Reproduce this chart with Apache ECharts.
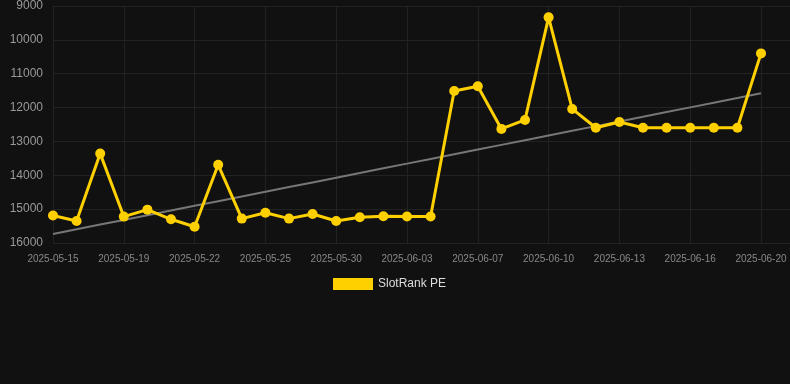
<!DOCTYPE html>
<html>
<head>
<meta charset="utf-8">
<script src="https://cdn.jsdelivr.net/npm/echarts@6/dist/echarts.min.js"></script>
<style>
    html, body { margin: 0; padding: 0; background: #111111; }
    #chart_Rank { width: 790px; height: 384px; }
</style>
</head>
<body>
<div id="chart_Rank"></div>
<script>
var dates = [
    '2025-05-15', '2025-05-16', '2025-05-17', '2025-05-19', '2025-05-20', '2025-05-21',
    '2025-05-22', '2025-05-23', '2025-05-24', '2025-05-25', '2025-05-26', '2025-05-28',
    '2025-05-30', '2025-05-31', '2025-06-01', '2025-06-03', '2025-06-04', '2025-06-06',
    '2025-06-07', '2025-06-08', '2025-06-09', '2025-06-10', '2025-06-11', '2025-06-12',
    '2025-06-13', '2025-06-14', '2025-06-15', '2025-06-16', '2025-06-17', '2025-06-18',
    '2025-06-20'
];
var rankPE = [
    15190, 15350, 13360, 15220, 15015, 15300, 15520, 13690, 15280, 15105, 15280, 15145,
    15350, 15240, 15210, 15215, 15215, 11510, 11370, 12630, 12365, 9335, 12040, 12595,
    12425, 12595, 12595, 12595, 12595, 12595, 10400
];
var yTicks = [9000, 16000, 1000]; // min, max, step

var chart_Rank = null;

// 线性趋势线
var calcTrend = function (ys) {
    var n = ys.length, sx = 0, sy = 0, sxy = 0, sxx = 0;
    for (var i = 0; i < n; i++) {
        sx += i; sy += ys[i]; sxy += i * ys[i]; sxx += i * i;
    }
    var k = (n * sxy - sx * sy) / (n * sxx - sx * sx);
    var b = (sy - k * sx) / n;
    var out = [];
    for (var j = 0; j < n; j++) {
        out.push(Math.round(k * j + b));
    }
    return out;
};

chart_Rank = echarts.init(document.getElementById('chart_Rank'));

var option = {
    backgroundColor: '#111111',
    animation: false,
    legend: {
        data: [{ name: 'SlotRank PE', icon: 'rect' }],
        left: 328,
        top: 273,
        itemWidth: 40,
        itemHeight: 12,
        itemGap: 10,
        textStyle: { color: '#dddddd', fontSize: 12, fontFamily: 'Liberation Sans' }
    },
    grid: [
        { left: 53, right: 29, top: 6, bottom: 141 },
        { left: 53, right: 0, top: 6, bottom: 141 }
    ],
    xAxis: [{
        type: 'category',
        gridIndex: 0,
        boundaryGap: false,
        data: dates,
        axisLine: { show: false },
        axisTick: { show: false },
        axisLabel: {
            interval: 2,
            color: '#888888',
            fontSize: 10,
            fontFamily: 'Liberation Sans',
            margin: 11
        },
        splitLine: {
            show: true,
            interval: 2,
            lineStyle: { color: '#222222' }
        }
    }, {
        type: 'value',
        gridIndex: 1,
        show: false
    }],
    yAxis: [{
        type: 'value',
        gridIndex: 0,
        inverse: true,
        min: yTicks[0],
        max: yTicks[1],
        interval: yTicks[2],
        axisLine: { show: false },
        axisTick: { show: false },
        axisLabel: {
            color: '#999999',
            fontSize: 12,
            fontFamily: 'Liberation Sans',
            margin: 10,
            formatter: function (v) { return String(v); }
        },
        splitLine: { show: false }
    }, {
        type: 'value',
        gridIndex: 1,
        inverse: true,
        min: yTicks[0],
        max: yTicks[1],
        interval: yTicks[2],
        axisLine: { show: false },
        axisTick: { show: false },
        axisLabel: { show: false },
        splitLine: { show: true, lineStyle: { color: '#222222' } }
    }],
    series: [{
        name: 'trend',
        type: 'line',
        xAxisIndex: 0,
        yAxisIndex: 0,
        data: calcTrend(rankPE),
        symbol: 'none',
        lineStyle: { color: '#777777', width: 2 },
        z: 1
    }, {
        name: 'SlotRank PE',
        type: 'line',
        xAxisIndex: 0,
        yAxisIndex: 0,
        data: rankPE,
        symbol: 'circle',
        symbolSize: 10,
        itemStyle: { color: '#ffd000' },
        lineStyle: { color: '#ffd000', width: 3 },
        z: 3
    }]
};

chart_Rank.setOption(option);
</script>
</body>
</html>
